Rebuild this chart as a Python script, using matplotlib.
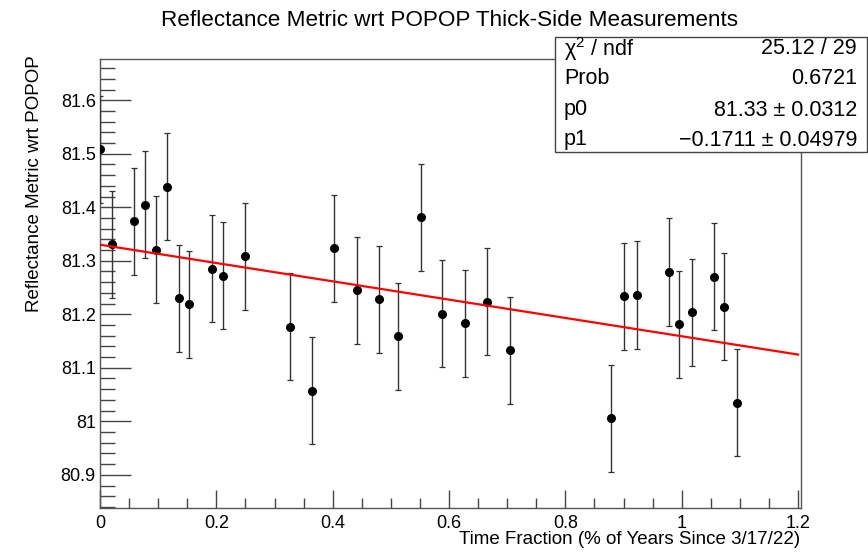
import numpy as np
import matplotlib
matplotlib.use("Agg")
import matplotlib.pyplot as plt
from matplotlib.ticker import MultipleLocator

plt.rcParams['font.family'] = ['Liberation Sans', 'DejaVu Sans']
plt.rcParams['mathtext.fontset'] = 'custom'
plt.rcParams['mathtext.rm'] = 'Liberation Sans'
plt.rcParams['mathtext.it'] = 'Liberation Sans:italic'

time_frac = [0.000, 0.020, 0.058, 0.077, 0.097, 0.116, 0.135, 0.153, 0.193, 0.211,
             0.250, 0.327, 0.364, 0.403, 0.441, 0.480, 0.512, 0.552, 0.588, 0.627,
             0.666, 0.705, 0.878, 0.900, 0.923, 0.978, 0.996, 1.017, 1.055, 1.073,
             1.095]
reflectance = [81.508, 81.331, 81.374, 81.405, 81.321, 81.438, 81.230, 81.219, 81.285, 81.272,
               81.308, 81.177, 81.057, 81.323, 81.245, 81.228, 81.159, 81.381, 81.201, 81.183,
               81.223, 81.133, 81.006, 81.234, 81.236, 81.279, 81.181, 81.204, 81.270, 81.214,
               81.035]
refl_err = [0.1] * len(time_frac)

# fit result
p0 = 81.33
p1 = -0.1711
stats_names = ['\u03c7$^{2}$ / ndf', 'Prob', 'p0', 'p1']
stats_vals = ['25.12 / 29', '0.6721', '81.33 \u00b1 0.0312', '\u22120.1711 \u00b1 0.04979']

fig = plt.figure(figsize=(8.68, 5.6), dpi=100)
ax = fig.add_axes([100/868, 1-508/560, (801-100)/868, (508-59)/560])

ax.errorbar(time_frac, reflectance, yerr=refl_err, fmt='o', color='black',
            ecolor='#333333', elinewidth=1.0, capsize=2.2, capthick=0.9,
            markersize=5.5, zorder=3)

xf = np.array([0.0, 1.2])
ax.plot(xf, p0 + p1*xf, color='red', lw=1.6, zorder=4)

ax.set_xlim(0, 1.205)
ax.set_ylim(80.838, 81.677)

ax.xaxis.set_major_locator(MultipleLocator(0.2))
ax.xaxis.set_minor_locator(MultipleLocator(0.05))
ax.yaxis.set_major_locator(MultipleLocator(0.1))
ax.yaxis.set_minor_locator(MultipleLocator(0.02))
ax.xaxis.set_major_formatter(matplotlib.ticker.FuncFormatter(lambda v, p: f'{v:g}'))
ax.yaxis.set_major_formatter(matplotlib.ticker.FuncFormatter(lambda v, p: f'{round(v, 2):g}'))

ax.tick_params(axis='both', which='both', direction='in', top=False, right=False,
               labelsize=13, color='#444444', width=1)
ax.tick_params(axis='y', which='major', length=22, pad=3)
ax.tick_params(axis='y', which='minor', length=11)
ax.tick_params(axis='x', which='major', length=13, pad=5)
ax.tick_params(axis='x', which='minor', length=7)
for s in ax.spines.values():
    s.set_color('#555555')
    s.set_linewidth(1)

fig.text(450/868, 1-20/560, 'Reflectance Metric wrt POPOP Thick-Side Measurements',
         ha='center', va='center', fontsize=16.2)
fig.text(800/868, 1-540/560, 'Time Fraction (% of Years Since 3/17/22)',
         ha='right', va='center', fontsize=13.5)
fig.text(35/868, 1-55/560, 'Reflectance Metric wrt POPOP', rotation=90,
         ha='center', va='top', fontsize=13.5)

# stats box
bx0, by0, bx1, by1 = 555, 37, 867, 152
box = plt.Rectangle((bx0/868, 1-by1/560), (bx1-bx0)/868, (by1-by0)/560,
                    transform=fig.transFigure, facecolor='white',
                    edgecolor='#444444', lw=1, zorder=10)
fig.patches.append(box)
row_y = [49, 79, 110, 140]
for name, val, ry in zip(stats_names, stats_vals, row_y):
    fig.text(564/868, 1-ry/560, name, ha='left', va='center', fontsize=15.5, zorder=11)
    fig.text(857/868, 1-ry/560, val, ha='right', va='center', fontsize=15.5, zorder=11)

fig.savefig('out.png', dpi=100)
